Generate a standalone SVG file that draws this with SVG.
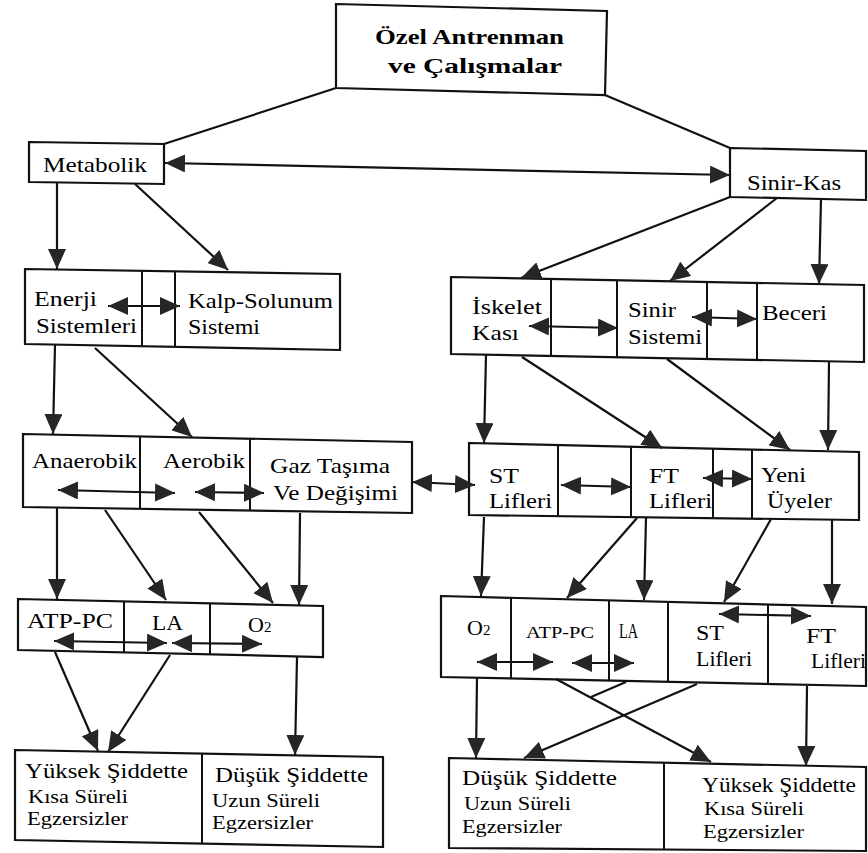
<svg xmlns="http://www.w3.org/2000/svg" width="868" height="853" viewBox="0 0 868 853" font-family="Liberation Serif, serif">
<style>
.box{fill:#fff;stroke:#111;stroke-width:2.2}
.div{stroke:#111;stroke-width:2}
.c{stroke:#111;stroke-width:2.2;fill:none}
.a{marker-end:url(#ah)}
.d{marker-start:url(#ah);marker-end:url(#ah)}
text{font-family:'Liberation Serif','Times New Roman',serif;font-size:22px;fill:#000}
.b{font-weight:bold}
.s{font-size:19px}
.xs{font-size:16px}
.m{font-size:20px}
</style>
<defs>
<marker id="ah" viewBox="0 0 20 18" refX="20" refY="9" markerWidth="20" markerHeight="18" markerUnits="userSpaceOnUse" orient="auto-start-reverse">
<path d="M0,0 L20,9 L0,18 Z" fill="#262626"/>
</marker>
</defs>
<rect width="868" height="853" fill="#fff"/>

<g id="ozel">
<polygon class="box" points="336,4 607,11 605,95 336,88"/>
<text class="b" x="375" y="44" textLength="189" lengthAdjust="spacingAndGlyphs">Özel Antrenman</text>
<text class="b" x="388" y="73" textLength="174" lengthAdjust="spacingAndGlyphs">ve Çalışmalar</text>
</g>

<g id="metabolik">
<polygon class="box" points="29,142 164,144 164,184 29,182"/>
<text x="43" y="172" textLength="104" lengthAdjust="spacingAndGlyphs">Metabolik</text>
</g>

<g id="sinirkas">
<polygon class="box" points="730,148 866,151 866,200 730,197"/>
<text x="747" y="190" textLength="94" lengthAdjust="spacingAndGlyphs">Sinir-Kas</text>
</g>

<g id="enerji-kalp">
<polygon class="box" points="25,269 340,274 340,350 25,344"/>
<line class="div" x1="142" y1="271" x2="142" y2="346"/>
<line class="div" x1="175" y1="271" x2="175" y2="347"/>
<text x="34" y="306" textLength="63" lengthAdjust="spacingAndGlyphs">Enerji</text>
<text x="36" y="333" textLength="101" lengthAdjust="spacingAndGlyphs">Sistemleri</text>
<text x="188" y="308" textLength="145" lengthAdjust="spacingAndGlyphs">Kalp-Solunum</text>
<text x="188" y="334" textLength="72" lengthAdjust="spacingAndGlyphs">Sistemi</text>
</g>

<g id="anaerobik-aerobik-gaz">
<polygon class="box" points="23,434 412,442 412,513 23,507"/>
<line class="div" x1="140" y1="436" x2="140" y2="509"/>
<line class="div" x1="250" y1="438" x2="250" y2="511"/>
<text x="32" y="468" textLength="105" lengthAdjust="spacingAndGlyphs">Anaerobik</text>
<text x="163" y="468" textLength="82" lengthAdjust="spacingAndGlyphs">Aerobik</text>
<text x="270" y="473" textLength="120" lengthAdjust="spacingAndGlyphs">Gaz Taşıma</text>
<text x="273" y="500" textLength="125" lengthAdjust="spacingAndGlyphs">Ve Değişimi</text>
</g>

<g id="iskelet-sinir-beceri">
<polygon class="box" points="451,277 864,285 864,362 451,354"/>
<line class="div" x1="551" y1="279" x2="551" y2="356"/>
<line class="div" x1="617" y1="280" x2="617" y2="357"/>
<line class="div" x1="707" y1="282" x2="707" y2="359"/>
<line class="div" x1="757" y1="283" x2="757" y2="360"/>
<text x="472" y="314" textLength="70" lengthAdjust="spacingAndGlyphs">İskelet</text>
<text x="472" y="340" textLength="47" lengthAdjust="spacingAndGlyphs">Kası</text>
<text x="628" y="317" textLength="48" lengthAdjust="spacingAndGlyphs">Sinir</text>
<text x="628" y="344" textLength="74" lengthAdjust="spacingAndGlyphs">Sistemi</text>
<text x="762" y="320" textLength="65" lengthAdjust="spacingAndGlyphs">Beceri</text>
</g>

<g id="st-ft-yeni">
<polygon class="box" points="469,443 859,452 859,520 469,515"/>
<line class="div" x1="558" y1="445" x2="558" y2="517"/>
<line class="div" x1="631" y1="447" x2="631" y2="517"/>
<line class="div" x1="713" y1="449" x2="713" y2="518"/>
<line class="div" x1="752" y1="450" x2="752" y2="519"/>
<text class="m" x="489" y="483" textLength="30" lengthAdjust="spacingAndGlyphs">ST</text>
<text class="m" x="489" y="508" textLength="63" lengthAdjust="spacingAndGlyphs">Lifleri</text>
<text class="m" x="649" y="483" textLength="30" lengthAdjust="spacingAndGlyphs">FT</text>
<text class="m" x="649" y="508" textLength="63" lengthAdjust="spacingAndGlyphs">Lifleri</text>
<text class="m" x="761" y="482" textLength="45" lengthAdjust="spacingAndGlyphs">Yeni</text>
<text class="m" x="767" y="508" textLength="65" lengthAdjust="spacingAndGlyphs">Üyeler</text>
</g>

<g id="atp-left">
<polygon class="box" points="18,599 323,606 323,657 18,650"/>
<line class="div" x1="124" y1="601" x2="124" y2="653"/>
<line class="div" x1="210" y1="603" x2="210" y2="655"/>
<text x="27" y="628" textLength="86" lengthAdjust="spacingAndGlyphs">ATP-PC</text>
<text x="152" y="630" textLength="31" lengthAdjust="spacingAndGlyphs">LA</text>
<text x="248" y="632">O<tspan font-size="15">2</tspan></text>
</g>

<g id="atp-right">
<polygon class="box" points="441,596 866,607 866,686 441,677"/>
<line class="div" x1="511" y1="598" x2="511" y2="679"/>
<line class="div" x1="609" y1="600" x2="609" y2="681"/>
<line class="div" x1="668" y1="602" x2="668" y2="682"/>
<line class="div" x1="768" y1="604" x2="768" y2="684"/>
<text x="467" y="635">O<tspan font-size="15">2</tspan></text>
<text class="xs" x="526" y="638" textLength="68" lengthAdjust="spacingAndGlyphs">ATP-PC</text>
<text x="619" y="638" font-size="14" textLength="19" lengthAdjust="spacingAndGlyphs">LA</text>
<text x="696" y="640" textLength="28" lengthAdjust="spacingAndGlyphs">ST</text>
<text x="696" y="666" textLength="56" lengthAdjust="spacingAndGlyphs">Lifleri</text>
<text x="806" y="643" textLength="30" lengthAdjust="spacingAndGlyphs">FT</text>
<text x="811" y="668" textLength="55" lengthAdjust="spacingAndGlyphs">Lifleri</text>
</g>

<g id="sonuc-left">
<polygon class="box" points="15,750 383,757 383,847 15,840"/>
<line class="div" x1="202" y1="753" x2="202" y2="844"/>
<text x="25" y="778" textLength="163" lengthAdjust="spacingAndGlyphs">Yüksek Şiddette</text>
<text class="s" x="28" y="803" textLength="100" lengthAdjust="spacingAndGlyphs">Kısa Süreli</text>
<text class="s" x="27" y="825" textLength="101" lengthAdjust="spacingAndGlyphs">Egzersizler</text>
<text x="215" y="782" textLength="153" lengthAdjust="spacingAndGlyphs">Düşük Şiddette</text>
<text class="s" x="212" y="807" textLength="108" lengthAdjust="spacingAndGlyphs">Uzun Süreli</text>
<text class="s" x="212" y="829" textLength="101" lengthAdjust="spacingAndGlyphs">Egzersizler</text>
</g>

<g id="sonuc-right">
<polygon class="box" points="449,758 866,767 866,851 449,848"/>
<line class="div" x1="664" y1="762" x2="664" y2="849"/>
<text x="462" y="785" textLength="155" lengthAdjust="spacingAndGlyphs">Düşük Şiddette</text>
<text class="s" x="464" y="810" textLength="107" lengthAdjust="spacingAndGlyphs">Uzun Süreli</text>
<text class="s" x="462" y="833" textLength="100" lengthAdjust="spacingAndGlyphs">Egzersizler</text>
<text x="702" y="792" textLength="154" lengthAdjust="spacingAndGlyphs">Yüksek Şiddette</text>
<text class="s" x="704" y="815" textLength="100" lengthAdjust="spacingAndGlyphs">Kısa Süreli</text>
<text class="s" x="703" y="838" textLength="101" lengthAdjust="spacingAndGlyphs">Egzersizler</text>
</g>

<g id="connectors">
<line class="c" x1="336" y1="88" x2="164" y2="144"/>
<line class="c" x1="605" y1="95" x2="730" y2="148"/>
<line class="c d" x1="165" y1="163" x2="730" y2="175"/>
<line class="c a" x1="57" y1="183" x2="57" y2="269"/>
<line class="c a" x1="135" y1="184" x2="228" y2="270"/>
<line class="c a" x1="730" y1="197" x2="521" y2="278"/>
<line class="c a" x1="777" y1="198" x2="670" y2="281"/>
<line class="c a" x1="821" y1="199" x2="819" y2="284"/>
<line class="c d" x1="108" y1="306" x2="180" y2="306"/>
<line class="c a" x1="55" y1="345" x2="53" y2="434"/>
<line class="c a" x1="95" y1="348" x2="192" y2="437"/>
<line class="c d" x1="58" y1="490" x2="175" y2="493"/>
<line class="c d" x1="195" y1="492" x2="264" y2="493"/>
<line class="c d" x1="412" y1="482" x2="475" y2="485"/>
<line class="c d" x1="529" y1="326" x2="618" y2="328"/>
<line class="c d" x1="692" y1="317" x2="757" y2="319"/>
<line class="c a" x1="486" y1="355" x2="484" y2="443"/>
<line class="c a" x1="522" y1="357" x2="662" y2="448"/>
<line class="c a" x1="667" y1="359" x2="790" y2="450"/>
<line class="c a" x1="829" y1="362" x2="828" y2="450"/>
<line class="c d" x1="561" y1="485" x2="631" y2="487"/>
<line class="c d" x1="703" y1="478" x2="752" y2="479"/>
<line class="c a" x1="57" y1="508" x2="57" y2="599"/>
<line class="c a" x1="105" y1="510" x2="166" y2="600"/>
<line class="c a" x1="199" y1="512" x2="273" y2="603"/>
<line class="c a" x1="300" y1="513" x2="299" y2="605"/>
<line class="c d" x1="54" y1="641" x2="167" y2="643"/>
<line class="c d" x1="172" y1="643" x2="262" y2="644"/>
<line class="c a" x1="55" y1="652" x2="98" y2="751"/>
<line class="c a" x1="170" y1="655" x2="108" y2="752"/>
<line class="c a" x1="297" y1="657" x2="295" y2="755"/>
<line class="c a" x1="484" y1="517" x2="481" y2="596"/>
<line class="c a" x1="637" y1="518" x2="567" y2="598"/>
<line class="c a" x1="646" y1="518" x2="644" y2="600"/>
<line class="c a" x1="771" y1="519" x2="724" y2="602"/>
<line class="c a" x1="832" y1="520" x2="832" y2="604"/>
<line class="c d" x1="477" y1="662" x2="553" y2="662"/>
<line class="c d" x1="572" y1="663" x2="634" y2="663"/>
<line class="c d" x1="719" y1="614" x2="811" y2="616"/>
<line class="c a" x1="477" y1="677" x2="476" y2="758"/>
<line class="c a" x1="556" y1="679" x2="711" y2="762"/>
<line class="c" x1="626" y1="682" x2="591" y2="697"/>
<line class="c a" x1="697" y1="684" x2="524" y2="758"/>
<line class="c a" x1="807" y1="686" x2="806" y2="766"/>
</g>
</svg>
